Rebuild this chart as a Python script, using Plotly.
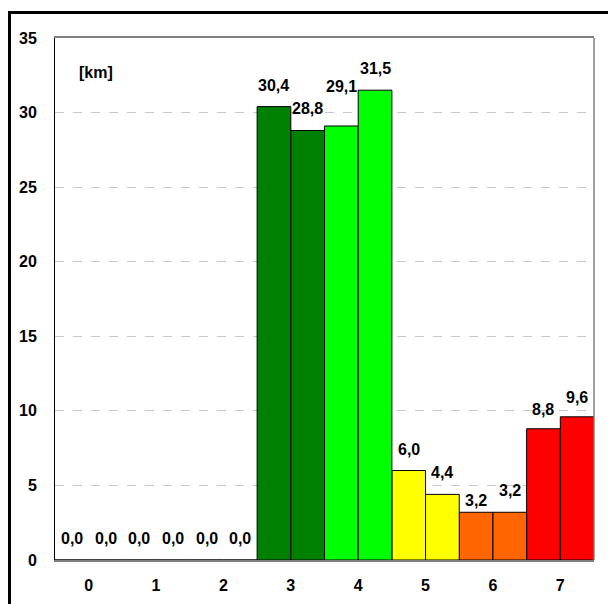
import plotly.graph_objects as go

categories = ["0", "1", "2", "3", "4", "5", "6", "7"]
first_values = [0.0, 0.0, 0.0, 30.4, 29.1, 6.0, 3.2, 8.8]
second_values = [0.0, 0.0, 0.0, 28.8, 31.5, 4.4, 3.2, 9.6]
category_colors = ["#008000", "#008000", "#008000", "#008000", "#00FF00", "#FFFF00", "#FF6600", "#FF0000"]
y_ticks = [0, 5, 10, 15, 20, 25, 30, 35]
unit_label = "[km]"

FONT = "Liberation Sans, Arial, sans-serif"
fs = 16
BASE_SHIFT = 11
# manual label nudges (pixels) as placed in the original chart
first_nudge = [0, 0, 0, 0, 18, 0, -10, -2]
second_nudge = [0, 0, 0, 0, 0, 0, 0, -2]

fig = go.Figure()
idx = list(range(len(categories)))
for vals, off, nudges in ((first_values, -0.25, first_nudge), (second_values, 0.25, second_nudge)):
    xs = [i + off for i in idx]
    fig.add_trace(go.Bar(
        x=xs, y=vals, width=0.5,
        marker=dict(color=category_colors, line=dict(color="black", width=1)),
        showlegend=False, hoverinfo="skip",
    ))
    for x, v, n in zip(xs, vals, nudges):
        fig.add_annotation(
            x=x, y=v, xref="x", yref="y", text=f"{v:.1f}".replace(".", ","),
            showarrow=False, yanchor="bottom", xanchor="center", yshift=BASE_SHIFT + n,
            font=dict(family=FONT, size=fs, color="black", weight="bold"),
        )

# page body has an 8px default margin, so the figure is 8px smaller and margins shifted
fig.update_layout(
    width=608, height=596,
    margin=dict(l=47, r=22, t=30, b=44),
    paper_bgcolor="white", plot_bgcolor="white",
    barmode="overlay",
    font=dict(family=FONT, size=fs, color="black", weight="bold"),
)
fig.update_xaxes(
    range=[-0.5, 7.5], tickvals=idx, ticktext=categories,
    showgrid=False, showline=True, linecolor="#808080", linewidth=1.5, zeroline=False,
    mirror=True, ticks="", ticklabelstandoff=10, automargin=False,
    tickfont=dict(family=FONT, size=fs, color="black", weight="bold"),
)
fig.update_yaxes(
    range=[0, 35], tickvals=y_ticks, showgrid=True, gridcolor="#C8C8C8", griddash="dash",
    gridwidth=1, showline=True, linecolor="black", linewidth=1, ticks="",
    ticklabelstandoff=14, zeroline=False, automargin=False,
    tickfont=dict(family=FONT, size=fs, color="black", weight="bold"),
)
# right edge of plot area
fig.add_shape(type="line", xref="paper", yref="paper", x0=1, x1=1, y0=0, y1=1,
              line=dict(color="#808080", width=1.5))
# outer chart border (left and top visible)
fig.add_shape(type="rect", xref="paper", yref="paper",
              x0=-0.0844, x1=1.2, y0=-0.2, y1=1.049,
              line=dict(color="black", width=3), fillcolor="rgba(0,0,0,0)")
fig.add_annotation(text=unit_label, xref="paper", yref="paper", x=0.041, y=0.933,
                   xanchor="left", yanchor="middle", showarrow=False,
                   font=dict(family=FONT, size=fs, color="black", weight="bold"))

fig.write_html("out.html")
